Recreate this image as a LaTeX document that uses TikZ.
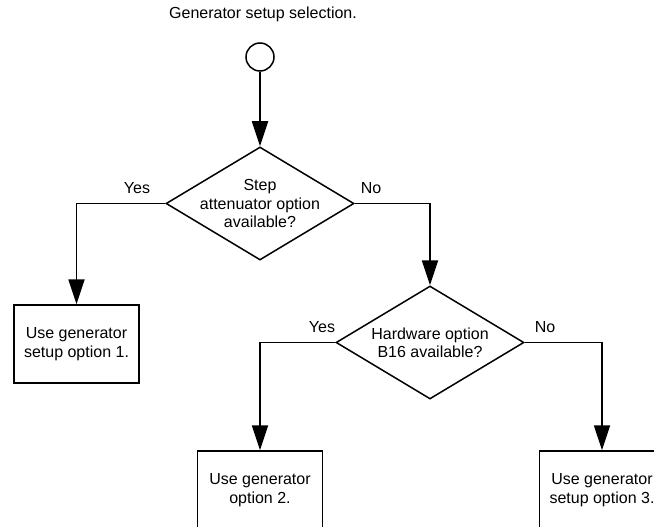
\documentclass[tikz,border=0pt]{standalone}
\usepackage{fontspec}
\setmainfont{Liberation Sans}
\usetikzlibrary{shapes.geometric,arrows.meta}
\begin{document}
\begin{tikzpicture}[x=1pt,y=-1pt,
  font=\fontsize{16}{18.4}\selectfont,
  decision/.style={draw,diamond,line width=1.5pt,minimum width=188pt,minimum height=113pt,inner sep=0pt,align=center,aspect=1.66},
  action/.style={draw,rectangle,line width=1.5pt,minimum width=125pt,minimum height=78pt,inner sep=0pt,align=center},
  startnode/.style={draw,circle,line width=1.5pt,minimum size=28pt,inner sep=0pt},
  flow/.style={line width=1.8pt,-{Triangle[length=25pt,width=16pt]}},
  lbl/.style={inner sep=0pt}]
\useasboundingbox (0,0) rectangle (654,527);
\clip (0,0) rectangle (654,527);

% title and start
\node[lbl] (title) at (263,14) {Generator setup selection.};
\node[startnode] (start) at (260,57) {};

% decisions
\node[decision,inner sep=-14pt] (d1) at (260,203.5) {Step\\attenuator option\\available?};
\node[decision] (d2) at (430,342.5) {Hardware option\\B16 available?};

% actions
\node[action] (b1) at (76.5,344) {Use generator\\setup option 1.};
\node[action] (b2) at (260,490) {Use generator\\option 2.};
\node[action] (b3) at (602,490) {Use generator\\setup option 3.};

% connectors
\draw[flow] (start) -- (d1.north);
\draw[flow] (d1.west) -| (b1.north);
\draw[flow] (d1.east) -| (d2.north);
\draw[flow] (d2.west) -| (b2.north);
\draw[flow] (d2.east) -| (b3.north);

% branch labels
\node[lbl] (y1) at (137,188) {Yes};
\node[lbl] (n1) at (371,188) {No};
\node[lbl] (y2) at (322,327) {Yes};
\node[lbl] (n2) at (545,327) {No};
\end{tikzpicture}
\end{document}
